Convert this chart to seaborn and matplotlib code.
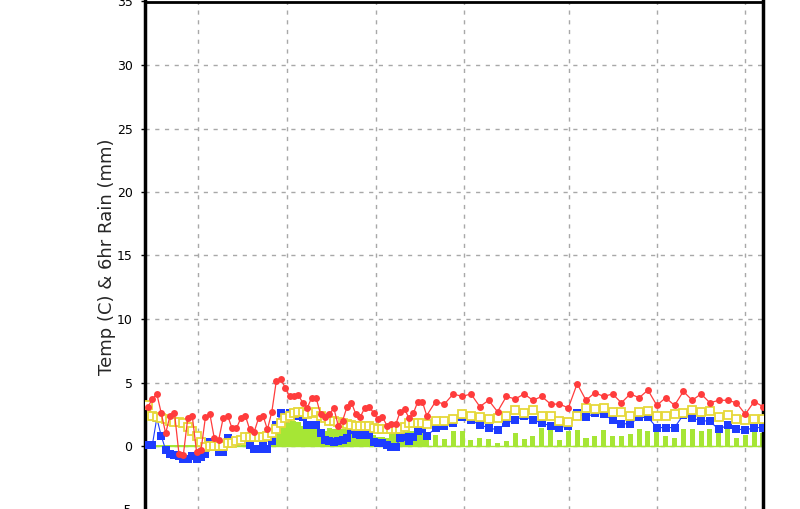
import numpy as np
import pandas as pd
import matplotlib
matplotlib.use("Agg")
import matplotlib.pyplot as plt
import seaborn as sns

# 3-hourly part (first 64 steps), then 6-hourly (38 steps)
red_3h = [3.1, 3.7, 4.1, 2.6, 1.0, 2.4, 2.6, -0.6, -0.7, 2.2,
          2.4, -0.5, -0.3, 2.3, 2.5, 0.6, 0.5, 2.2, 2.4, 1.4,
          1.4, 2.2, 2.4, 1.3, 1.1, 2.2, 2.4, 1.3, 2.7, 5.1,
          5.3, 4.6, 3.9, 3.9, 4.0, 3.4, 3.0, 3.8, 3.8, 2.5,
          2.3, 2.5, 3.0, 1.6, 2.0, 3.1, 3.4, 2.5, 2.3, 3.0,
          3.1, 2.6, 2.1, 2.3, 1.6, 1.7, 1.7, 2.7, 2.9, 2.2,
          2.6, 3.5, 3.5, 2.4]
red_6h = [3.5, 3.3, 4.1, 3.9, 4.1, 3.1, 3.6, 2.7, 3.9, 3.7,
          4.1, 3.6, 3.9, 3.3, 3.3, 3.0, 4.9, 3.6, 4.2, 3.9,
          4.1, 3.4, 4.1, 3.8, 4.4, 3.2, 3.8, 3.2, 4.3, 3.6,
          4.1, 3.4, 3.6, 3.6, 3.4, 2.5, 3.5, 3.1]

yellow_3h = [3.2, 2.4, 2.3, 2.2, 2.1, 2.0, 1.9, 1.9, 1.8, 1.5,
             1.2, 0.8, 0.3, -0.1, 0.0, 0.0, 0.0, 0.0, 0.2, 0.2,
             0.4, 0.5, 0.7, 0.7, 0.7, 0.7, 0.7, 0.8, 1.0, 1.3,
             1.8, 2.2, 2.4, 2.6, 2.65, 2.65, 2.5, 2.6, 2.7, 2.4,
             2.2, 2.0, 2.0, 1.9, 1.8, 1.7, 1.65, 1.6, 1.6, 1.6,
             1.6, 1.4, 1.3, 1.3, 1.3, 1.3, 1.3, 1.3, 1.5, 1.8,
             1.8, 1.8, 1.8, 1.7]
yellow_6h = [2.0, 2.0, 2.1, 2.5, 2.4, 2.3, 2.1, 2.2, 2.4, 2.8,
             2.6, 2.8, 2.4, 2.4, 2.0, 1.9, 2.4, 3.0, 2.9, 3.0,
             2.65, 2.65, 2.4, 2.65, 2.75, 2.4, 2.4, 2.5, 2.6, 2.8,
             2.7, 2.75, 2.3, 2.45, 2.1, 2.05, 2.1, 2.1]

blue_3h = [0.1, 0.1, 2.2, 0.8, -0.3, -0.6, -0.7, -0.8, -1.0, -1.05,
           -0.8, -1.0, -0.9, -0.6, 0.3, 0.0, -0.5, -0.5, 0.6, 0.3,
           0.35, 0.5, 0.6, 0.1, -0.25, -0.2, 0.1, -0.25, 0.4, 1.65,
           2.6, 2.1, 2.6, 2.5, 2.4, 2.3, 1.65, 1.65, 1.65, 1.0,
           0.45, 0.4, 0.35, 0.4, 0.45, 0.6, 1.25, 0.95, 0.85, 0.85,
           0.85, 0.35, 0.25, 0.25, 0.1, -0.05, -0.05, 0.6, 0.7, 0.4,
           0.7, 1.2, 1.3, 0.8]
blue_6h = [1.4, 1.6, 1.85, 2.3, 2.05, 1.65, 1.45, 1.25, 1.8, 2.05,
           2.35, 2.05, 1.8, 1.6, 1.45, 1.6, 2.6, 2.25, 2.6, 2.5,
           2.05, 1.75, 1.75, 2.25, 2.25, 1.45, 1.45, 1.45, 2.45, 2.2,
           2.0, 1.95, 1.3, 1.65, 1.35, 1.25, 1.45, 1.45]

rain_3h = [0.06, 0.06, 0.06, 0.06, 0.06, 0.06, 0.06, 0.06, 0.06, 0.06,
           0.06, 0.06, 0.06, 0.06, 0.06, 0.06, 0.06, 0.06, 0.06, 0.06,
           0.06, 0.06, 0.06, 0.06, 0.06, 0.06, 0.06, 0.06, 0.3, 1.1,
           1.6, 1.9, 2.1, 2.0, 1.9, 1.6, 1.4, 1.3, 1.3, 1.0,
           1.2, 1.4, 1.3, 1.3, 1.3, 1.4, 2.0, 1.2, 0.8, 0.8,
           0.7, 0.9, 0.7, 0.7, 0.6, 1.0, 1.0, 1.1, 1.1, 1.2,
           1.2, 1.1, 1.1, 1.1]
rain_6h = [0.87, 0.55, 1.2, 1.2, 0.47, 0.6, 0.55, 0.2, 0.4, 1.0,
           0.55, 0.8, 1.4, 1.25, 0.47, 1.2, 1.26, 0.6, 0.8, 1.26,
           0.8, 0.8, 0.95, 1.34, 1.2, 1.2, 0.8, 0.63, 1.34, 1.34,
           1.2, 1.34, 1.65, 1.34, 0.63, 0.87, 1.34, 1.0]

grid_hours = [34, 94, 154.5, 214, 285.5, 345, 405]
y_ticks = [-5, 0, 5, 10, 15, 20, 25, 30, 35]

hours = np.concatenate([np.arange(len(red_3h)) * 3,
                        195 + np.arange(len(red_6h)) * 6])
df = pd.DataFrame({
    "hour": hours,
    "red": red_3h + red_6h,
    "yellow": yellow_3h + yellow_6h,
    "blue": blue_3h + blue_6h,
    "rain": rain_3h + rain_6h,
})

sns.set_style("white")
plt.rcParams["font.family"] = ["DejaVu Sans"]

fig = plt.figure(figsize=(8, 5.09), dpi=100)
ax = fig.add_axes([145 / 800, -0.5 / 509, 618 / 800, 508 / 509])

ax.bar(df["hour"], df["rain"], width=3.4, color="#a6e635",
       edgecolor="none", linewidth=0, zorder=2)
ax.axhline(0, color="#a6e635", lw=1, zorder=2)

sns.lineplot(data=df, x="hour", y="blue", ax=ax, color="#1e3cff", lw=0.8,
             marker="s", markersize=6, markeredgewidth=0, sort=False,
             estimator=None, zorder=3)
sns.lineplot(data=df, x="hour", y="yellow", ax=ax, color="#e6d83a", lw=1.3,
             marker="s", markersize=6, markerfacecolor="white",
             markeredgecolor="#e6d83a", markeredgewidth=1.3, sort=False,
             estimator=None, zorder=4)
sns.lineplot(data=df, x="hour", y="red", ax=ax, color="#ff3c3c", lw=0.9,
             marker="o", markersize=5, markeredgewidth=0, sort=False,
             estimator=None, zorder=5)

ax.set_xlim(-2.0, 417)
ax.set_ylim(-5, 35)
ax.set_yticks(y_ticks)
ax.set_xticks(grid_hours)
ax.tick_params(axis="x", bottom=False, labelbottom=False)
ax.tick_params(axis="y", left=True, length=3, width=1, pad=6,
               labelsize=9, colors="black")
ax.grid(True, color="#a8a8a8", lw=1, linestyle=(0, (3, 4)), zorder=0)
ax.set_axisbelow(True)
ax.set_xlabel("")
ax.set_ylabel("")

for side in ["left", "right"]:
    ax.spines[side].set_color("black")
    ax.spines[side].set_linewidth(2.5)
ax.spines["top"].set_color("black")
ax.spines["top"].set_linewidth(2)
ax.spines["bottom"].set_visible(False)

fig.text(107 / 800, 1 - 257 / 509, "Temp (C) & 6hr Rain (mm)", rotation=90,
         ha="center", va="center", fontsize=13)

fig.savefig("out.png", dpi=100)
